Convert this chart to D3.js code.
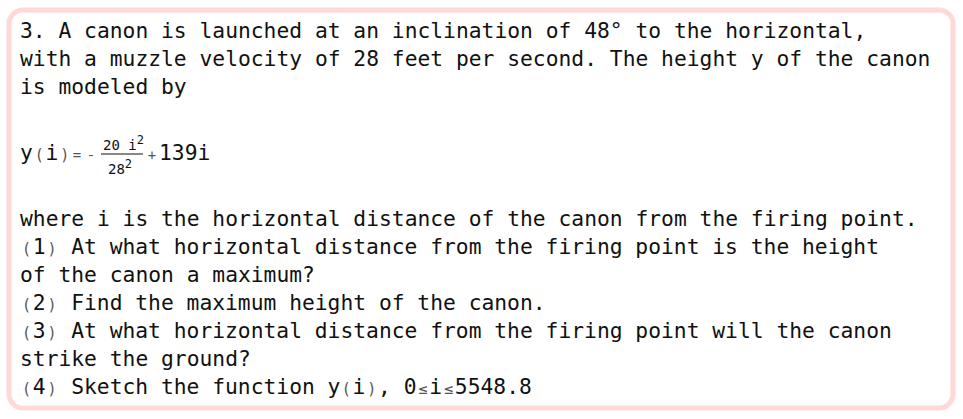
<!DOCTYPE html>
<html><head><meta charset="utf-8">
<script src="https://cdn.jsdelivr.net/npm/d3@7"></script>
<style>body{margin:0;background:#fff}</style>
</head><body><div id="chart"></div>
<script>
const W = 963, H = 419;
// text lines: array of segments [text, small?]; small glyphs fill one monospace cell
const introLines = [
  [["3. A canon is launched at an inclination of 48° to the horizontal,", 0]],
  [["with a muzzle velocity of 28 feet per second. The height y of the canon", 0]],
  [["is modeled by", 0]]
];
const questionLines = [
  [["where i is the horizontal distance of the canon from the firing point.", 0]],
  [["(", 1], ["1", 0], [")", 1], [" At what horizontal distance from the firing point is the height", 0]],
  [["of the canon a maximum?", 0]],
  [["(", 1], ["2", 0], [")", 1], [" Find the maximum height of the canon.", 0]],
  [["(", 1], ["3", 0], [")", 1], [" At what horizontal distance from the firing point will the canon", 0]],
  [["strike the ground?", 0]],
  [["(", 1], ["4", 0], [")", 1], [" Sketch the function y", 0], ["(", 1], ["i", 0], [")", 1], [", 0", 0], ["≤", 1], ["i", 0], ["≤", 1], ["5548.8", 0]]
];
const coefA = "20", coefB = "28", coefC = "139";

const fs = 21.3, cw = 12.79, x0 = 20;
const svg = d3.select("#chart").append("svg").attr("width", W).attr("height", H)
  .style("font-family", "'DejaVu Sans Mono', monospace");

svg.append("rect").attr("x", 9).attr("y", 10).attr("width", 944).attr("height", 398)
  .attr("rx", 14).attr("fill", "#fff").attr("stroke", "#ffd8d8").attr("stroke-width", 5);

function drawSegs(segs, y, startX) {
  let col = 0;
  segs.forEach(s => {
    if (s[1]) {
      for (const ch of s[0]) {
        svg.append("text").attr("x", startX + col * cw + cw / 2).attr("y", y)
          .attr("text-anchor", "middle").attr("font-size", 15).attr("fill", "#555").text(ch);
        col++;
      }
    } else {
      svg.append("text").attr("x", startX + col * cw).attr("y", y)
        .attr("font-size", fs).attr("fill", "#111").style("white-space", "pre").text(s[0]);
      col += s[0].length;
    }
  });
}
introLines.forEach((l, i) => drawSegs(l, 38 + i * 28, x0));
questionLines.forEach((l, i) => drawSegs(l, 226 + i * 28, x0));

// formula
drawSegs([["y", 0], ["(", 1], ["i", 0], [")", 1]], 160, x0);
const f = svg.append("g").attr("fill", "#555").attr("font-size", 14);
f.append("text").attr("x", 77).attr("y", 160).attr("text-anchor", "middle").text("=");
f.append("text").attr("x", 91).attr("y", 160).attr("text-anchor", "middle").text("-");
const num = svg.append("text").attr("x", 103).attr("y", 150).attr("font-size", 14).attr("fill", "#111");
num.append("tspan").text(coefA + " i");
num.append("tspan").attr("dy", -6).attr("font-size", 12).text("2");
svg.append("line").attr("x1", 101).attr("x2", 143).attr("y1", 154).attr("y2", 154)
  .attr("stroke", "#111").attr("stroke-width", 1);
const den = svg.append("text").attr("x", 108).attr("y", 174).attr("font-size", 14).attr("fill", "#111");
den.append("tspan").text(coefB);
den.append("tspan").attr("dy", -6).attr("font-size", 12).text("2");
f.append("text").attr("x", 152).attr("y", 160).attr("text-anchor", "middle").text("+");
svg.append("text").attr("x", 159).attr("y", 160).attr("font-size", fs).attr("fill", "#111").text(coefC + "i");
</script></body></html>
